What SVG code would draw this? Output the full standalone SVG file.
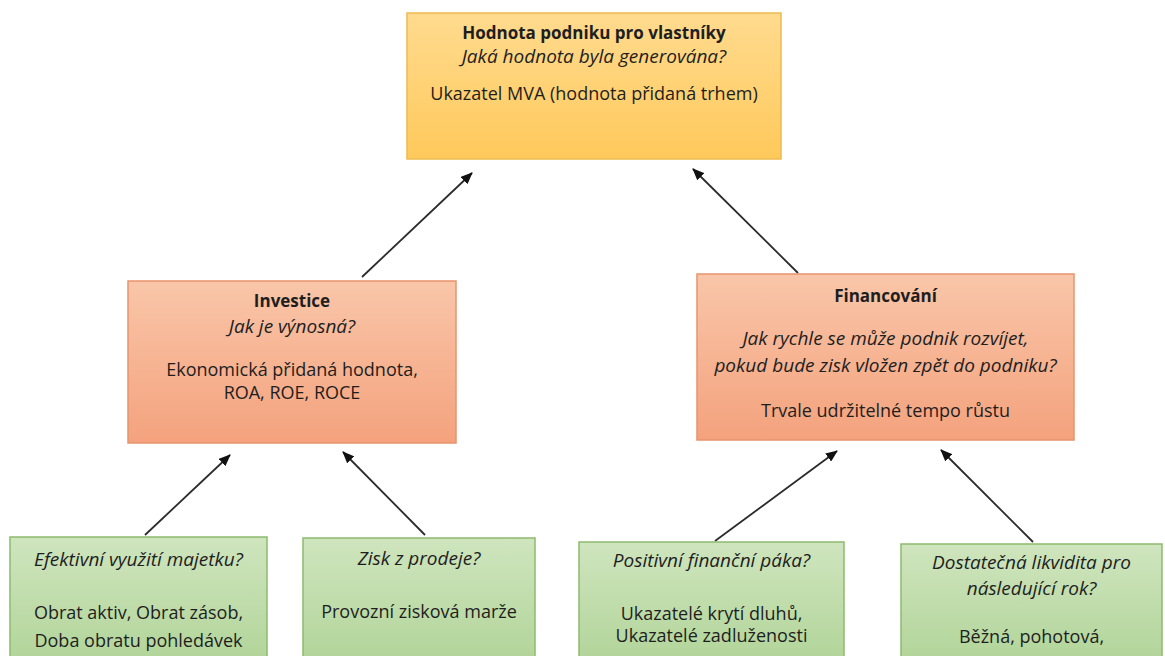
<svg xmlns="http://www.w3.org/2000/svg" width="1165" height="656" viewBox="0 0 1165 656">
<style>
text{font-family:"Open Sans","Noto Sans","Liberation Sans",sans-serif;font-size:18px;fill:#1e1e1e;text-anchor:middle}
.b{font-weight:bold;font-size:17px}
.i{font-style:italic;font-size:19px}
.top{fill:url(#gTop);stroke:#EDBA4F;stroke-width:1.5}
.mid{fill:url(#gMid);stroke:#E8946C;stroke-width:1.5}
.bot{fill:url(#gBot);stroke:#8DBB6E;stroke-width:1.5}
.arr{stroke:#2b2b2b;stroke-width:1.8;fill:none;marker-end:url(#ah)}
</style>
<defs>
<linearGradient id="gTop" x1="0" y1="0" x2="0" y2="1"><stop offset="0" stop-color="#FFDB8F"/><stop offset="1" stop-color="#FFC95B"/></linearGradient>
<linearGradient id="gMid" x1="0" y1="0" x2="0" y2="1"><stop offset="0" stop-color="#F9C6A9"/><stop offset="1" stop-color="#F4A27D"/></linearGradient>
<linearGradient id="gBot" x1="0" y1="0" x2="0" y2="1"><stop offset="0" stop-color="#CFE5BE"/><stop offset="1" stop-color="#AFD396"/></linearGradient>
<marker id="ah" viewBox="0 0 12 10" refX="11" refY="5" markerWidth="12" markerHeight="10" markerUnits="userSpaceOnUse" orient="auto"><path d="M0,0 L12,5 L0,10 z" fill="#111"/></marker>
</defs>
<rect width="1165" height="656" fill="#fff"/>
<g id="connectors">
<line class="arr" x1="362" y1="277" x2="472" y2="173"/>
<line class="arr" x1="798" y1="273" x2="693" y2="169"/>
<line class="arr" x1="145" y1="535" x2="230" y2="455"/>
<line class="arr" x1="425" y1="535" x2="343" y2="452"/>
<line class="arr" x1="715" y1="541" x2="837" y2="451"/>
<line class="arr" x1="1033" y1="542" x2="941" y2="450"/>
</g>
<g id="hodnota">
<rect class="top" x="407" y="13" width="374" height="146"/>
<text class="b" x="594" y="39">Hodnota podniku pro vlastníky</text>
<text class="i" x="594" y="63">Jaká hodnota byla generována?</text>
<text x="594" y="100">Ukazatel MVA (hodnota přidaná trhem)</text>
</g>
<g id="investice">
<rect class="mid" x="128" y="281" width="328" height="162"/>
<text class="b" x="292" y="307">Investice</text>
<text class="i" x="292" y="333">Jak je výnosná?</text>
<text x="292" y="376">Ekonomická přidaná hodnota,</text>
<text x="292" y="399">ROA, ROE, ROCE</text>
</g>
<g id="financovani">
<rect class="mid" x="697" y="274" width="377" height="166"/>
<text class="b" x="885.5" y="302">Financování</text>
<text class="i" x="885.5" y="345">Jak rychle se může podnik rozvíjet,</text>
<text class="i" x="885.5" y="372">pokud bude zisk vložen zpět do podniku?</text>
<text x="885.5" y="417">Trvale udržitelné tempo růstu</text>
</g>
<g id="majetek">
<rect class="bot" x="10" y="537" width="257" height="135"/>
<text class="i" x="138.5" y="566">Efektivní využití majetku?</text>
<text x="138.5" y="619">Obrat aktiv, Obrat zásob,</text>
<text x="138.5" y="647">Doba obratu pohledávek</text>
</g>
<g id="zisk">
<rect class="bot" x="303" y="538" width="232" height="134"/>
<text class="i" x="419" y="565">Zisk z prodeje?</text>
<text x="419" y="618">Provozní zisková marže</text>
</g>
<g id="paka">
<rect class="bot" x="579" y="542" width="265" height="130"/>
<text class="i" x="711.5" y="567">Positivní finanční páka?</text>
<text x="711.5" y="620">Ukazatelé krytí dluhů,</text>
<text x="711.5" y="642">Ukazatelé zadluženosti</text>
</g>
<g id="likvidita">
<rect class="bot" x="901" y="544" width="261" height="128"/>
<text class="i" x="1031.5" y="569">Dostatečná likvidita pro</text>
<text class="i" x="1031.5" y="595">následující rok?</text>
<text x="1031.5" y="643">Běžná, pohotová,</text>
</g>
</svg>
